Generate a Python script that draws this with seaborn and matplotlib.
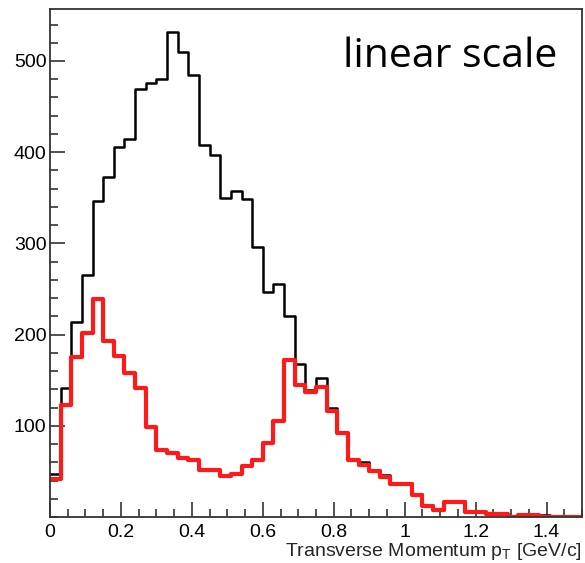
import numpy as np
import pandas as pd
import matplotlib
matplotlib.use("Agg")
import matplotlib.pyplot as plt
import seaborn as sns
from matplotlib.ticker import MultipleLocator, FuncFormatter

# ---- data (bin width 0.03 GeV/c, 0 .. 1.5) ----
bin_edges = [round(0.03 * i, 4) for i in range(51)]
bin_centers = [round(0.03 * i + 0.015, 4) for i in range(50)]

black_counts = [47, 141, 214, 265, 347, 373, 406, 415, 469, 476,
                480, 532, 510, 485, 408, 397, 350, 357, 349, 296,
                247, 256, 220, 168, 139, 152, 120, 92, 62, 60,
                51, 46, 37, 37, 25, 13, 8, 18, 17, 5,
                5, 3, 3, 0, 2, 2, 2, 0, 0, 0]
red_counts = [42, 123, 175, 202, 239, 193, 177, 158, 141, 99,
              74, 70, 65, 62, 51, 51, 45, 47, 56, 62,
              81, 105, 172, 145, 137, 143, 116, 92, 63, 57,
              50, 44, 36, 36, 24, 12, 8, 16, 16, 5,
              5, 3, 3, 0, 2, 2, 0, 0, 0, 0]

x_ticks = [0, 0.2, 0.4, 0.6, 0.8, 1.0, 1.2, 1.4]
y_ticks = [100, 200, 300, 400, 500]

df = pd.DataFrame({"pt": bin_centers, "all": black_counts, "sel": red_counts})

sns.set_theme(style="white")
plt.rcParams["font.family"] = ["Liberation Sans", "DejaVu Sans"]
plt.rcParams["mathtext.fontset"] = "custom"
plt.rcParams["mathtext.rm"] = "Liberation Sans"
plt.rcParams["mathtext.it"] = "Liberation Sans"

fig = plt.figure(figsize=(5.85, 5.63), dpi=100)
ax = fig.add_axes([50 / 585, 46 / 563, 532 / 585, 508 / 563])

sns.histplot(data=df, x="pt", weights="all", bins=bin_edges, element="step",
             fill=False, color="black", linewidth=1.8, ax=ax)
sns.histplot(data=df, x="pt", weights="sel", bins=bin_edges, element="step",
             fill=False, color="#ff1a1a", linewidth=3.0, ax=ax)

ax.set_xlim(0, 1.5)
ax.set_ylim(0, 557)
ax.set_xticks(x_ticks)
ax.set_yticks(y_ticks)
ax.xaxis.set_minor_locator(MultipleLocator(0.05))
ax.yaxis.set_minor_locator(MultipleLocator(20))
ax.xaxis.set_major_formatter(FuncFormatter(lambda v, p: "%g" % v))
ax.tick_params(axis="both", which="major", direction="in", length=11, width=1.2,
               labelsize=14, colors="#333333", labelcolor="black")
ax.tick_params(axis="both", which="minor", direction="in", length=6, width=1.2,
               colors="#333333")
ax.tick_params(axis="x", which="both", bottom=True, pad=5)
ax.tick_params(axis="y", which="both", left=True, pad=2.5)

for s in ax.spines.values():
    s.set_color("#333333")
    s.set_linewidth(1.3)

ax.set_ylabel("")
ax.set_xlabel("Transverse Momentum p$_{\\mathrm{T}}$ [GeV/c]", loc="right",
              fontsize=14, labelpad=0)

ax.text(0.953, 0.886, "linear scale", transform=ax.transAxes, ha="right",
        va="baseline", fontsize=29.5, family=["Open Sans", "DejaVu Sans"], color="black")

fig.savefig("out.png", dpi=100)
